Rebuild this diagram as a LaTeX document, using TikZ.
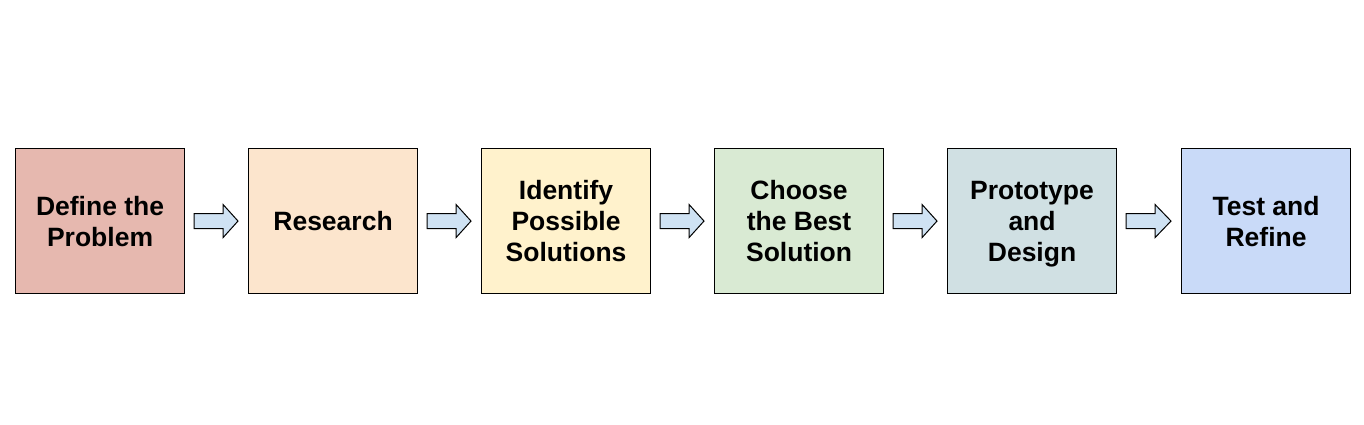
\documentclass[tikz,border=0pt]{standalone}
\usepackage{fontspec}
\setmainfont{Liberation Sans}
\usetikzlibrary{calc}
\definecolor{c1}{HTML}{E6B8AF}
\definecolor{c2}{HTML}{FCE5CD}
\definecolor{c3}{HTML}{FFF2CC}
\definecolor{c4}{HTML}{D9EAD3}
\definecolor{c5}{HTML}{D0E0E3}
\definecolor{c6}{HTML}{C9DAF8}
\definecolor{arrowfill}{HTML}{CFE2F3}
\newcommand\capline[1]{\rule{0pt}{0.72em}\smash{#1}}
\tikzset{
  stepbox/.style={draw=black, line width=1.1pt, minimum width=169pt, minimum height=145pt,
    inner sep=0pt, align=center, font=\fontsize{26.5pt}{31pt}\selectfont\bfseries, anchor=north west},
  blockarrow/.style={draw=black, line width=1pt, fill=arrowfill, line join=miter}
}
\begin{document}
\begin{tikzpicture}[x=1pt,y=-1pt]
\useasboundingbox[fill=white] (0,0) rectangle (1364,425);
\node[stepbox, fill=c1] (b1) at (15,148) {\capline{Define the}\\\capline{Problem}};
\node[stepbox, fill=c2] (b2) at (248,148) {\capline{Research}};
\node[stepbox, fill=c3] (b3) at (481,148) {\capline{Identify}\\\capline{Possible}\\\capline{Solutions}};
\node[stepbox, fill=c4] (b4) at (714,148) {\capline{Choose}\\\capline{the Best}\\\capline{Solution}};
\node[stepbox, fill=c5] (b5) at (947,148) {\capline{Prototype}\\\capline{and}\\\capline{Design}};
\node[stepbox, fill=c6] (b6) at (1181,148) {\capline{Test and}\\\capline{Refine}};
\foreach \a/\b in {b1/b2,b2/b3,b3/b4,b4/b5,b5/b6}{
  \draw[blockarrow] ($(\a.east)+(9,-7.5)$) -- ($(\a.east)+(38,-7.5)$) -- ($(\a.east)+(38,-16.5)$)
    -- ($(\b.west)+(-10,0)$) -- ($(\a.east)+(38,16.5)$) -- ($(\a.east)+(38,7.5)$)
    -- ($(\a.east)+(9,7.5)$) -- cycle;
}
\end{tikzpicture}
\end{document}
